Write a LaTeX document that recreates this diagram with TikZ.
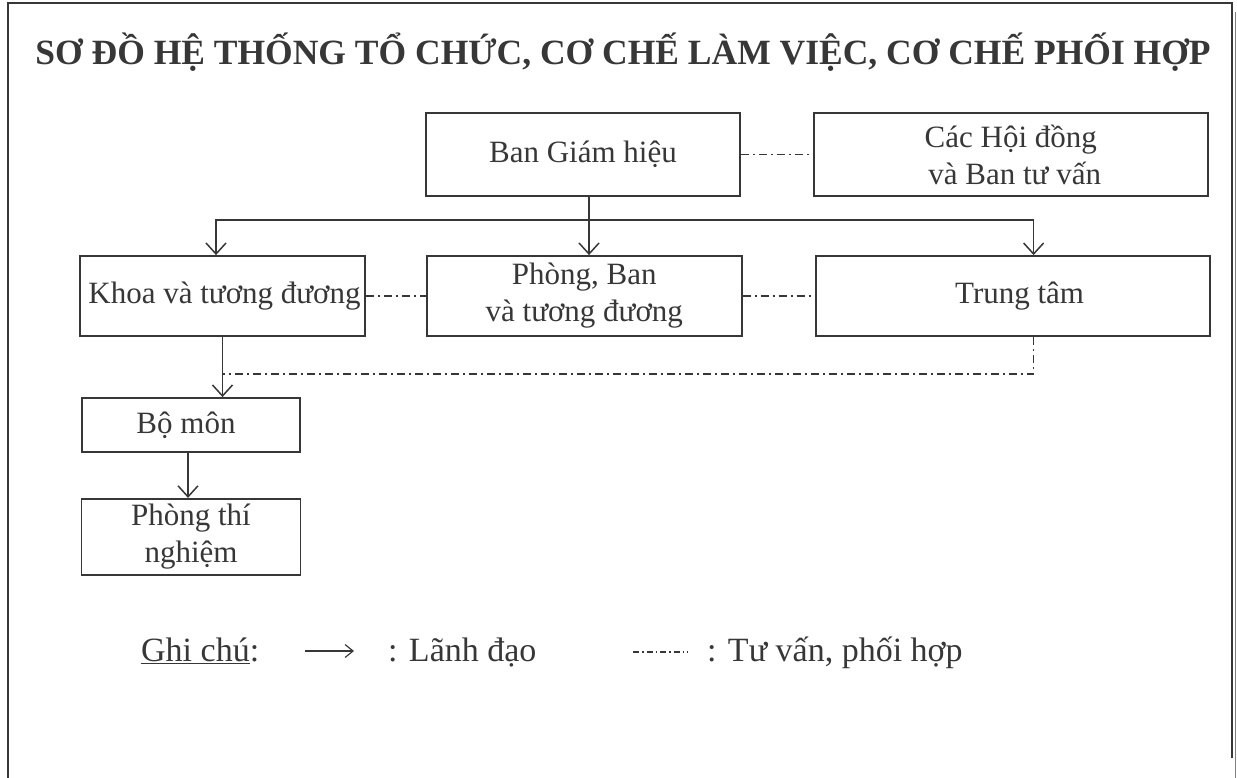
\documentclass[tikz,border=0pt]{standalone}
\usepackage{fontspec}
\setmainfont{Liberation Serif}
\usetikzlibrary{arrows.meta,positioning}
\definecolor{inkgray}{RGB}{55,55,55}

\begin{document}
\begin{tikzpicture}[
  x=1pt, y=1pt, node distance=60pt,
  b/.style={draw=inkgray, line width=1.8pt, align=center, inner sep=0pt, text=inkgray,
    font=\fontsize{31}{37}\selectfont},
  lead/.style={-{Straight Barb[length=11pt,width=20pt,line width=1.5pt]}, line width=1.6pt, draw=inkgray},
  coop/.style={line width=1.5pt, draw=inkgray, dash pattern=on 8pt off 4pt on 2pt off 4pt},
  lg/.style={anchor=base west, text=inkgray, inner sep=0pt, font=\fontsize{34}{40}\selectfont}
]
\useasboundingbox (0,0) rectangle (1237,-778);
% frame of the page
\draw[inkgray, line width=1.8pt] (8,-778) -- (8,-3) -- (1232,-3) -- (1232,-758);
\draw[gray, line width=1pt] (1235.5,-12) -- (1235.5,-778);

\node[text=inkgray, font=\fontsize{35.5}{42}\selectfont\bfseries] (title) at (623,-52)
  {SƠ ĐỒ HỆ THỐNG TỔ CHỨC, CƠ CHẾ LÀM VIỆC, CƠ CHẾ PHỐI HỢP};

% top level
\node[b, minimum width=314pt, minimum height=83pt] (bgh) at (583,-154.5) {Ban Giám hiệu};
\node[b, minimum width=394pt, minimum height=83pt, right=72pt of bgh] (hoidong) {Các Hội đồng\\ \ và Ban tư vấn};

% second level
\node[b, minimum width=285pt, minimum height=80pt] (khoa) at (222.5,-296) {\hspace*{4pt}Khoa và tương đương};
\node[b, minimum width=315pt, minimum height=80pt, right=of khoa] (phong) {Phòng, Ban\\ và tương đương};
\node[b, minimum width=394pt, minimum height=80pt, right=72pt of phong] (trungtam) {\hspace*{14pt}Trung tâm};

% below Khoa
\node[b, minimum width=218pt, minimum height=54pt] (bomon) at (191,-425) {Bộ môn\hspace*{10pt}};
\node[b, minimum width=219pt, minimum height=76pt, below=45pt of bomon] (ptn) {Phòng thí\\ nghiệm};

\coordinate (bus) at (589,-220);
\coordinate (meet) at (222.5,-374);

\draw[lead] ([xshift=6pt]bgh.south) -- (bus) -- (bus |- phong.north);
\draw[lead] (bus) -| ([xshift=-6.5pt]khoa.north);
\draw[lead] (bus) -| ([xshift=21pt]trungtam.north);
\draw[lead] (khoa.south) -- (khoa.south |- bomon.north);
\draw[lead] ([xshift=-3pt]bomon.south) -- ([xshift=-3pt]bomon.south |- ptn.north);

\draw[coop] (bgh.east) -- (hoidong.west);
\draw[coop] (khoa.east) -- (phong.west);
\draw[coop] (phong.east) -- (trungtam.west);
\draw[coop] ([xshift=21pt]trungtam.south) |- (meet);

% legend
\node[lg] (ghichu) at (141,-661) {\underline{Ghi chú}:};
\coordinate (la) at (305,-651);
\coordinate (lb) at (354,-651);
\draw[-{Straight Barb[length=8pt,width=13pt]}, line width=1.2pt, draw=inkgray] (la) -- (lb);
\node[lg] (lanh) at (388,-661) {: Lãnh đạo};
\coordinate (ca) at (633,-652);
\coordinate (cb) at (688,-652);
\draw[line width=1.2pt, draw=inkgray, dash pattern=on 6pt off 3pt on 1.5pt off 3pt] (ca) -- (cb);
\node[lg] (tuvan) at (707,-661) {: Tư vấn, phối hợp};
\end{tikzpicture}
\end{document}
